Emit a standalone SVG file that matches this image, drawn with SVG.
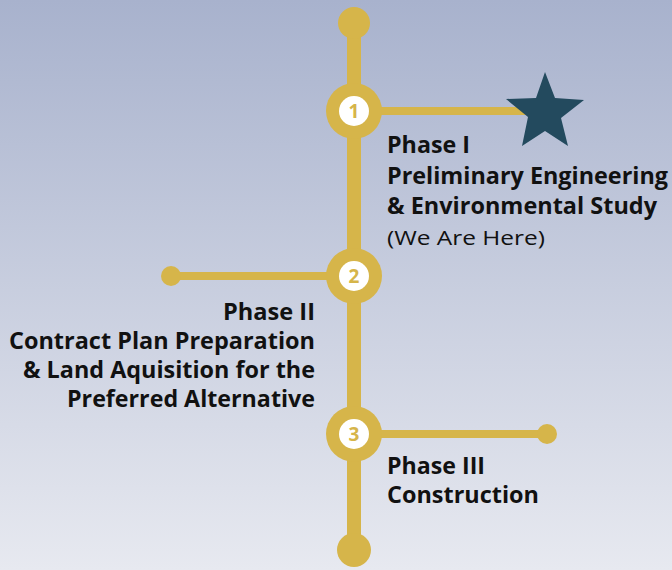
<svg xmlns="http://www.w3.org/2000/svg" width="672" height="570" viewBox="0 0 672 570">
<defs>
<linearGradient id="bg" x1="0" y1="0" x2="0" y2="1">
<stop offset="0" stop-color="#a8b2cd"/>
<stop offset="1" stop-color="#e7e9f0"/>
</linearGradient>
<style>
.gold{fill:#d6b54a}
.line{stroke:#d6b54a;fill:none}
.num{font-family:"Open Sans","Liberation Sans",sans-serif;font-weight:bold;font-size:19px;fill:#d6b54a;text-anchor:middle}
.lbl{font-family:"Open Sans","Liberation Sans",sans-serif;font-weight:bold;font-size:23px;fill:#111}
.sub{font-family:"Open Sans","Liberation Sans",sans-serif;font-size:20px;fill:#111}
</style>
</defs>
<rect width="672" height="570" fill="url(#bg)"/>
<g id="connectors">
<line class="line" x1="354" y1="23" x2="354" y2="550" stroke-width="14"/>
<line class="line" x1="354" y1="111" x2="530" y2="111" stroke-width="8"/>
<line class="line" x1="171" y1="276" x2="354" y2="276" stroke-width="8"/>
<line class="line" x1="354" y1="434" x2="547" y2="434" stroke-width="8"/>
</g>
<g id="start"><circle class="gold" cx="354" cy="23" r="16"/></g>
<g id="end"><circle class="gold" cx="354" cy="550" r="17"/></g>
<g id="node1">
<circle class="gold" cx="354" cy="111" r="28"/>
<circle cx="354" cy="111" r="15" fill="#fff"/>
<text class="num" x="354" y="118">1</text>
</g>
<g id="star1">
<polygon fill="#234a5e" points="545,72 555,98 584,100 561,118 568,146 545,131 522,146 528,117 506,99 536,98"/>
</g>
<g id="node2">
<circle class="gold" cx="354" cy="276" r="28"/>
<circle cx="354" cy="276" r="15" fill="#fff"/>
<text class="num" x="354" y="283">2</text>
<circle class="gold" cx="171" cy="276" r="10"/>
</g>
<g id="node3">
<circle class="gold" cx="354" cy="434" r="28"/>
<circle cx="354" cy="434" r="15" fill="#fff"/>
<text class="num" x="354" y="441">3</text>
<circle class="gold" cx="547" cy="434" r="10"/>
</g>
<g id="label1">
<text class="lbl" x="387" y="153" textLength="83" lengthAdjust="spacingAndGlyphs">Phase I</text>
<text class="lbl" x="387" y="184" textLength="281" lengthAdjust="spacingAndGlyphs">Preliminary Engineering</text>
<text class="lbl" x="387" y="214" textLength="270" lengthAdjust="spacingAndGlyphs">&amp; Environmental Study</text>
<text class="sub" x="387" y="245" textLength="158" lengthAdjust="spacingAndGlyphs">(We Are Here)</text>
</g>
<g id="label2" text-anchor="end">
<text class="lbl" x="315" y="320" textLength="92" lengthAdjust="spacingAndGlyphs">Phase II</text>
<text class="lbl" x="315" y="349" textLength="306" lengthAdjust="spacingAndGlyphs">Contract Plan Preparation</text>
<text class="lbl" x="315" y="378" textLength="292" lengthAdjust="spacingAndGlyphs">&amp; Land Aquisition for the</text>
<text class="lbl" x="315" y="407" textLength="248" lengthAdjust="spacingAndGlyphs">Preferred Alternative</text>
</g>
<g id="label3">
<text class="lbl" x="387" y="474" textLength="98" lengthAdjust="spacingAndGlyphs">Phase III</text>
<text class="lbl" x="387" y="503" textLength="152" lengthAdjust="spacingAndGlyphs">Construction</text>
</g>
</svg>
